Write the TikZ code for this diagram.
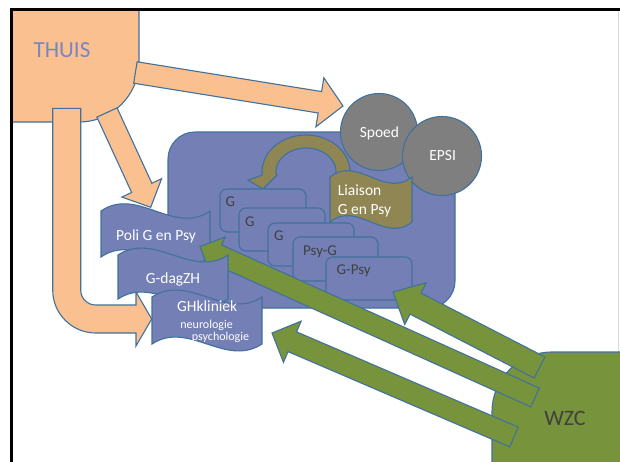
\documentclass[tikz,border=0pt]{standalone}
\usepackage{fontspec}
\setmainfont{Carlito}
\usetikzlibrary{calc}
\definecolor{orfill}{HTML}{FAC090}
\definecolor{bordblue}{HTML}{41719C}
\definecolor{mainblue}{HTML}{737FB5}
\definecolor{circgray}{HTML}{7F7F7F}
\definecolor{olivefill}{HTML}{8F8653}
\definecolor{grfill}{HTML}{77933C}
\definecolor{thuistext}{HTML}{7A86BF}
\definecolor{txtgray}{HTML}{404040}
\tikzset{
  bord/.style={draw=bordblue, line width=1.1pt, line join=miter},
  orarrow/.style={bord, fill=orfill},
  grarrow/.style={bord, fill=grfill},
  wavebox/.style={bord, fill=mainblue},
  gbox/.style={bord, fill=mainblue, rounded corners=7pt, minimum width=86pt, minimum height=43pt, anchor=north west, inner sep=0pt, outer sep=0pt},
  circ/.style={circle, bord, fill=circgray, inner sep=0pt, text=white, font=\fontsize{15}{18}\selectfont},
  wtext/.style={text=white, font=\fontsize{15.5}{18}\selectfont, inner sep=0pt, anchor=base},
  stext/.style={text=white, font=\fontsize{12}{14}\selectfont, inner sep=0pt, anchor=base},
  dtext/.style={text=txtgray, font=\fontsize{15}{17}\selectfont, inner sep=0pt, anchor=base west},
}
% block arrow: style, tail, tip, shaft half width, head length, head half width
\newcommand\blockarrow[6]{%
  \coordinate (hb) at ($(#3)!#5!(#2)$);
  \filldraw[#1] ($(#2)!#4!90:(#3)$) -- ($(hb)!#4!90:(#3)$) -- ($(hb)!#6!90:(#3)$) -- (#3)
    -- ($(hb)!#6!-90:(#3)$) -- ($(hb)!#4!-90:(#3)$) -- ($(#2)!#4!-90:(#3)$) -- cycle;
}
% wave shape: left, top, width, height, control offset
\newcommand\wave[5]{(#1,#2) .. controls ({#1+#3/3},{#2-#5}) and ({#1+2*#3/3},{#2+#5}) .. ({#1+#3},#2) -- ({#1+#3},{#2+#4}) .. controls ({#1+2*#3/3},{#2+#4+#5}) and ({#1+#3/3},{#2+#4-#5}) .. (#1,{#2+#4}) -- cycle}
\begin{document}
\begin{tikzpicture}[x=1pt,y=-1pt]
\useasboundingbox (0,0) rectangle (620,461);
\clip (0,0) rectangle (620,461);
\fill[white] (0,0) rectangle (620,461);
\draw[gray!30, line width=0.8pt] (618,11) -- (618,461);

% main blue area
\node[bord, fill=mainblue, rounded corners=27pt, minimum width=287pt, minimum height=176pt, anchor=north west, inner sep=0pt, outer sep=0pt] (main) at (168,132) {};

% THUIS
\filldraw[bord, fill=orfill] (11,9) -- (139,9) -- (139,62) .. controls (139,95.1) and (112.1,122) .. (79,122) -- (11,122) -- cycle;
\node[text=thuistext, font=\fontsize{23}{27}\selectfont, inner sep=0pt, anchor=base] (thuis) at (62,57) {THUIS};

% WZC
\filldraw[bord, fill=grfill] (492,463) -- (492,412) .. controls (492,378.9) and (518.9,352) .. (552,352) -- (623,352) -- (623,463) -- cycle;
\node[text=txtgray, font=\fontsize{22}{26}\selectfont, inner sep=0pt, anchor=base] (wzc) at (565,425) {WZC};

% orange arrows
\coordinate (o1t) at (135.4,72.5);
\coordinate (o1h) at (343,106);
\blockarrow{orarrow}{o1t}{o1h}{10.85pt}{23.4pt}{24.8pt}
\coordinate (o2t) at (107,112.5);
\coordinate (o2h) at (150.7,207.3);
\blockarrow{orarrow}{o2t}{o2h}{11.1pt}{21.4pt}{21.9pt}
\filldraw[orarrow] (52.7,108.3) -- (80.7,108.3) -- (80.7,290) .. controls (80.7,298.3) and (87.4,305) .. (95.7,305)
  -- (136,305) -- (136,292) -- (151.7,319) -- (136,346) -- (136,333) -- (95.7,333)
  .. controls (72,333) and (52.7,313.7) .. (52.7,290) -- cycle;

% circles
\node[circ, minimum size=77pt] (spoed) at (379,132) {};
\node[wtext] at (379.4,137.8) {Spoed};
\node[circ, minimum size=79pt] (epsi) at (442,156) {};
\node[wtext] at (442.7,160.5) {EPSI};

% curved olive arrow
\filldraw[bord, fill=olivefill] plot[domain=-5:185, samples=40] ({306+44*cos(\x)}, {172-37*sin(\x)})
  -- (248,180) -- (263,189) -- (277,175)
  -- plot[domain=185:-5, samples=40] ({306+30*cos(\x)}, {172-24*sin(\x)}) -- cycle;

% G boxes
\node[gbox] (b1) at (220,189) {};
\node[dtext] at (225.5,206.5) {G};
\node[gbox] (b2) at (239,208) {};
\node[dtext] at (245,226) {G};
\node[gbox] (b3) at (268,223) {};
\node[dtext] at (274,240) {G};
\node[gbox, minimum width=85pt, minimum height=44pt] (b4) at (293,237) {};
\node[dtext] at (303,255) {Psy-G};
\node[gbox] (b5) at (326,257) {};
\node[dtext] at (336.5,274) {G-Psy};

% Liaison
\filldraw[bord, fill=olivefill] \wave{330}{177}{82}{45}{22};
\node[wtext, anchor=base west] (liaison) at (337.7,195.7) {Liaison};
\node[wtext, anchor=base west] (liaison2) at (337.7,214) {G en Psy};

% Poli
\filldraw[wavebox] \wave{101}{211}{109}{46}{25};
\node[wtext] (poli) at (156,240) {Poli G en Psy};

% green arrows
\coordinate (gat) at (539.5,367.5);
\coordinate (gah) at (393,292);
\blockarrow{grarrow}{gat}{gah}{11.85pt}{25.3pt}{23.5pt}
\coordinate (gbt) at (535,397.5);
\coordinate (gbh) at (200,246.5);
\blockarrow{grarrow}{gbt}{gbh}{10.3pt}{19pt}{19pt}
\coordinate (gct) at (514,437);
\coordinate (gch) at (272,333);
\blockarrow{grarrow}{gct}{gch}{10.75pt}{22.1pt}{22.4pt}

% G-dagZH
\filldraw[wavebox] \wave{118}{255}{110}{44}{24};
\node[wtext] (gdag) at (173,283.3) {G-dagZH};

% GHkliniek
\filldraw[wavebox] \wave{152}{297}{110}{47}{24};
\node[wtext] (ghk) at (207.2,311.7) {GHkliniek};
\node[stext] (neuro) at (206.6,328.5) {neurologie};
\node[stext] (psych) at (220.5,340.5) {psychologie};

% frame
\draw[black, line width=3pt] (11.3,463) -- (11.3,9.5) -- (622,9.5);
\end{tikzpicture}
\end{document}
